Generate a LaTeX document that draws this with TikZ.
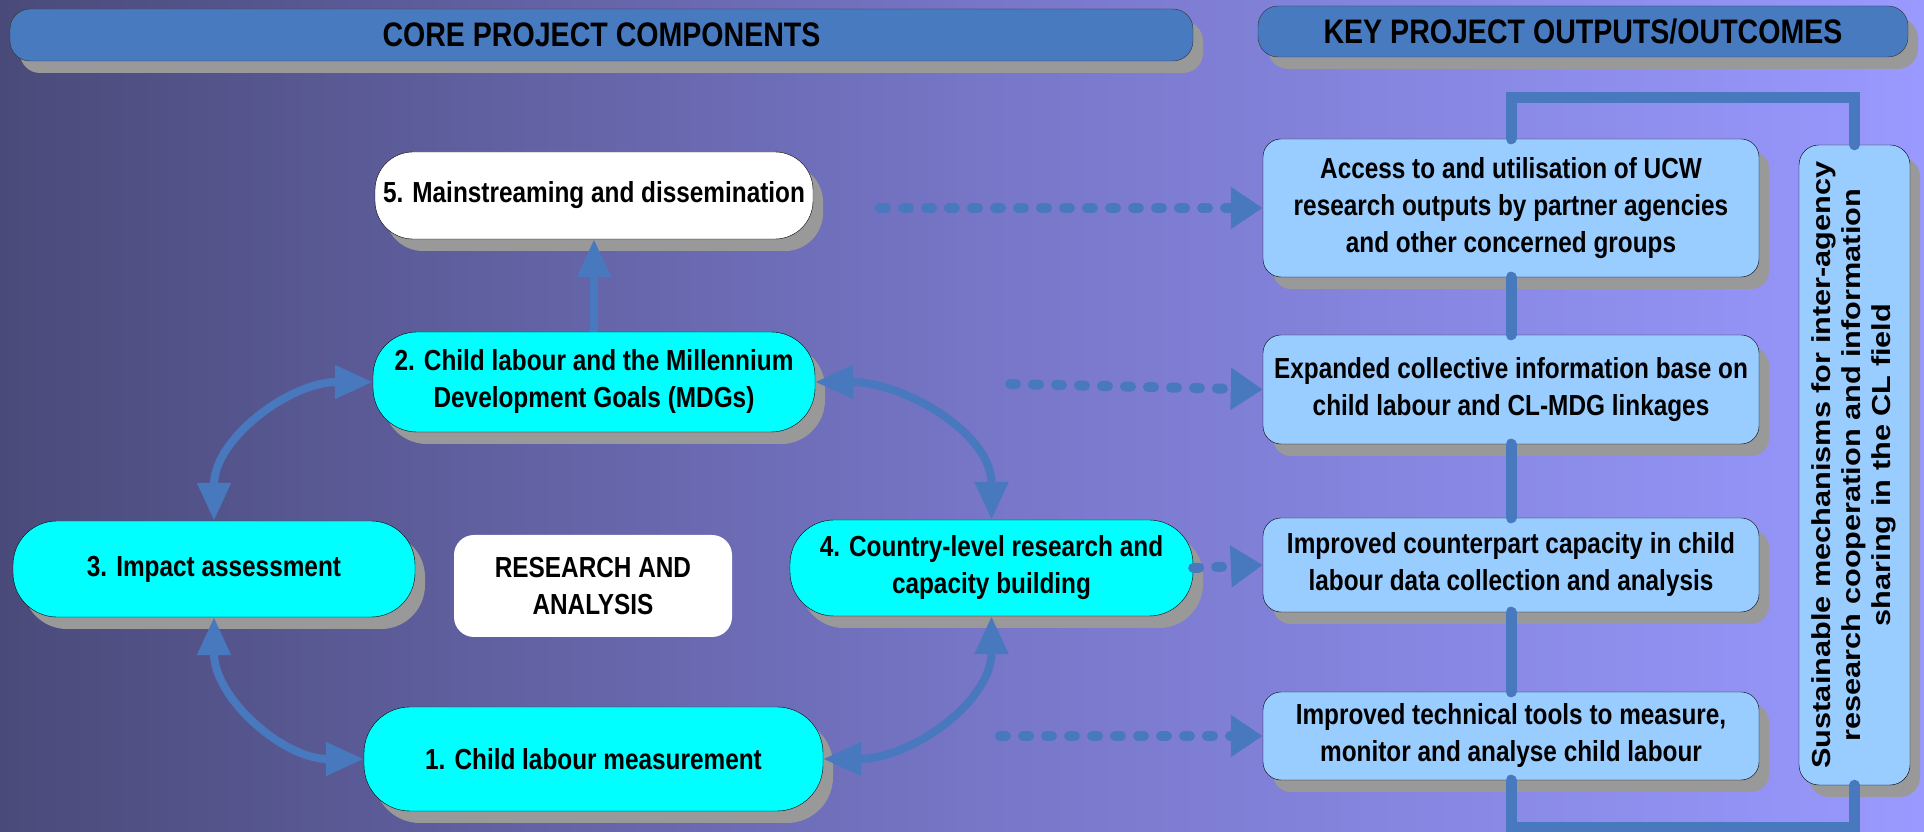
\documentclass[tikz,border=0pt]{standalone}
\usepackage{fontspec}
\setmainfont{Liberation Sans}
\newfontfamily\narrowsans[FakeStretch=0.84]{Liberation Sans}
\newfontfamily\widesans[FakeStretch=1.18]{Liberation Sans}
\usepackage{graphicx}
\usetikzlibrary{arrows.meta,shadows}
\definecolor{bgleft}{RGB}{74,74,122}
\definecolor{bgmid}{RGB}{118,117,198}
\definecolor{bgright}{RGB}{153,153,255}
\definecolor{linkblue}{RGB}{72,120,190}
\definecolor{headblue}{RGB}{72,122,192}
\definecolor{compcyan}{RGB}{0,255,255}
\definecolor{outblue}{RGB}{153,204,255}
\definecolor{shadowgrey}{RGB}{153,153,153}

\begin{document}
\begin{tikzpicture}[x=1pt,y=1pt,
  boxshadow/.style={drop shadow={shadow xshift=10pt,shadow yshift=-12pt,fill=shadowgrey,opacity=1}},
  header/.style={draw=black!80,fill=headblue,rounded corners=20pt,boxshadow,inner sep=0pt,
    font=\narrowsans\bfseries\fontsize{34}{40}\selectfont},
  comp/.style={draw=black,fill=compcyan,boxshadow,align=center,inner sep=0pt,
    font=\narrowsans\bfseries\fontsize{29}{37}\selectfont},
  outbox/.style={draw=black,fill=outblue,rounded corners=18pt,boxshadow,align=center,inner sep=0pt,
    minimum width=496pt,font=\narrowsans\bfseries\fontsize{29}{37}\selectfont},
  twoway/.style={draw=linkblue,line width=8pt,
    arrows={Triangle[length=38pt,width=32pt]-Triangle[length=38pt,width=32pt]}},
  oneway/.style={draw=linkblue,line width=8pt,arrows={-Triangle[length=38pt,width=32pt]}},
  dotlink/.style={draw=linkblue,line width=10pt,line cap=round,dash pattern=on 6pt off 17pt,
    arrows={-Triangle[length=32pt,width=40pt]}},
  link/.style={draw=linkblue,line width=11pt,line cap=round}]
\useasboundingbox (0,0) rectangle (1924,832);
\shade[left color=bgleft,right color=bgright,middle color=bgmid] (0,0) rectangle (1924,832);

% Headers
\node[header,minimum width=1183pt,minimum height=52pt] (hdrL) at (601.5,797) {CORE PROJECT COMPONENTS};
\node[header,minimum width=650pt,minimum height=51pt] (hdrR) at (1583,800.5) {KEY PROJECT OUTPUTS/OUTCOMES};

% Core components
\node[comp,fill=white,rounded corners=38pt,minimum width=438pt,minimum height=87pt] (n5) at (594,636.5) {5. Mainstreaming and dissemination};
\node[comp,rounded corners=44pt,minimum width=442pt,minimum height=100pt] (n2) at (594,450) {2. Child labour and the Millennium\\Development Goals (MDGs)};
\node[comp,rounded corners=44pt,minimum width=402pt,minimum height=96pt] (n3) at (214,263) {3. Impact assessment};
\node[comp,rounded corners=44pt,minimum width=403pt,minimum height=96pt] (n4) at (991.5,264) {4. Country-level research and\\capacity building};
\node[comp,rounded corners=46pt,minimum width=459pt,minimum height=104pt] (n1) at (593.5,73) {1. Child labour measurement};
\node[fill=white,rounded corners=20pt,align=center,inner sep=0pt,minimum width=278pt,minimum height=102pt,
  font=\narrowsans\bfseries\fontsize{29}{37}\selectfont] (ra) at (593,246) {RESEARCH AND\\ANALYSIS};

% Outputs
\node[outbox,minimum height=138pt] (o1) at (1511,624) {Access to and utilisation of UCW\\research outputs by partner agencies\\and other concerned groups};
\node[outbox,minimum height=109pt] (o2) at (1511,442.5) {Expanded collective information base on\\child labour and CL-MDG linkages};
\node[outbox,minimum height=94pt] (o3) at (1511,267) {Improved counterpart capacity in child\\labour data collection and analysis};
\node[outbox,minimum height=88pt] (o4) at (1511,96) {Improved technical tools to measure,\\monitor and analyse child labour};
\node[draw=black,fill=outblue,rounded corners=20pt,boxshadow,inner sep=0pt,minimum width=111pt,minimum height=640pt,
  font=\widesans\bfseries\fontsize{26}{30}\selectfont] (side) at (1854.5,367)
  {\rotatebox{90}{\begin{tabular}{@{}c@{}}Sustainable mechanisms for inter-agency\\research cooperation and information\\sharing in the CL field\end{tabular}}};

% Links between components
\draw[oneway] (n2) -- (n5);
\draw[twoway] (n3.north) to[out=90,in=180] (n2.west);
\draw[twoway] (n3.south) to[out=-90,in=180] (n1.west);
\draw[twoway] (n2.east) to[out=0,in=90] (n4.north);
\draw[twoway] (n1.east) to[out=0,in=-90] (n4.south);

% Components to outputs
\coordinate (d5) at (880,624);
\coordinate (d2) at (1010,448);
\coordinate (d1) at (1000,96);
\draw[dotlink] (d5) -- (o1.west);
\draw[dotlink] (d2) -- (o2.west);
\draw[dotlink] (n4.east) -- (o3.west);
\draw[dotlink] (d1) -- (o4.west);

% Output chain and loop to the side bar
\coordinate (topbend) at (1511,734);
\coordinate (botbend) at (1511,4);
\draw[link] (o1) -- (o2);
\draw[link] (o2) -- (o3);
\draw[link] (o3) -- (o4);
\draw[link] (o1.north) -- (topbend) -| (side.north);
\draw[link] (o4.south) -- (botbend) -| (side.south);
\end{tikzpicture}
\end{document}
